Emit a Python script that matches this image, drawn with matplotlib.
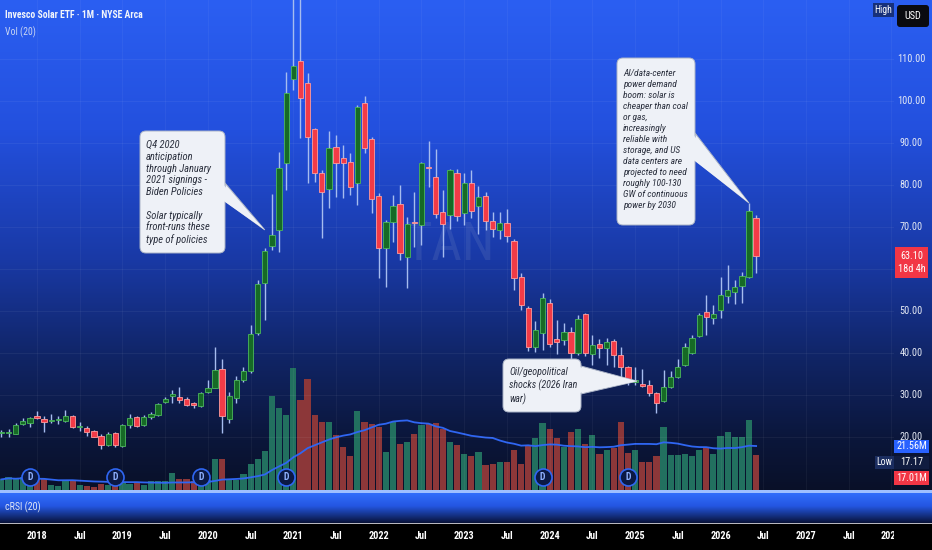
import numpy as np
import pandas as pd
import matplotlib
matplotlib.use("Agg")
import matplotlib.pyplot as plt
from matplotlib import font_manager, transforms
from matplotlib.patches import Rectangle, FancyBboxPatch, Polygon

# ---------------- data ----------------
months = pd.period_range("2017-08", "2026-06", freq="M")
opens = [20.9, 21.0, 20.7, 23.1, 23.3,
         25.0, 24.3, 23.8, 24.0, 23.8, 25.0, 22.4, 22.1, 21.4, 20.2, 18.1, 20.9,
         17.9, 22.9, 24.8, 22.9, 24.8, 25.2, 28.3, 29.8, 29.5, 29.05, 28.1, 27.4,
         30.7, 31.7, 36.2, 24.3, 29.3, 33.6, 35.7, 44.8, 56.7, 65.5, 69.3, 85.2,
         105.2, 109.5, 104.3, 93.3, 82.9, 79.1, 89.05, 86.4, 85.5, 80.5, 99.5, 91.0,
         77.4, 65.0, 71.2, 75.5, 62.9, 71.0, 70.5, 84.1, 81.9, 73.6, 72.9, 82.9,
         73.3, 80.5, 75.0, 77.4, 71.4, 69.3, 71.0, 66.7, 58.1, 50.7, 41.4, 44.8,
         51.9, 43.3, 43.1, 45.0, 40.0, 49.3, 39.8, 42.1, 41.2, 42.9, 39.5, 36.7,
         33.1, 32.6, 32.4, 30.5, 28.6, 31.9, 34.3, 37.1, 40.0, 44.05, 49.8, 48.3,
         50.2, 53.6, 54.5, 56.0, 58.1, 72.1]
highs = [21.7, 21.9, 23.3, 24.5, 24.8,
         26.2, 25.0, 25.5, 25.0, 26.4, 25.2, 23.6, 22.6, 21.7, 20.7, 21.2, 21.2,
         23.1, 25.5, 25.0, 25.2, 26.0, 28.1, 29.5, 31.2, 31.9, 29.5, 28.3, 30.7,
         33.6, 41.4, 38.6, 30.7, 34.5, 36.7, 46.7, 57.4, 65.0, 77.9, 87.9, 106.9,
         128.0, 130.0, 106.7, 93.6, 83.6, 92.9, 91.9, 89.5, 87.6, 99.05, 101.2, 91.4,
         78.1, 71.7, 77.6, 80.0, 72.4, 78.3, 85.5, 90.5, 88.6, 78.8, 83.8, 83.8,
         82.9, 83.6, 79.8, 78.3, 73.6, 73.6, 74.3, 67.1, 59.1, 51.2, 47.6, 54.3,
         52.9, 47.9, 47.1, 46.2, 49.05, 49.5, 44.3, 43.3, 43.6, 43.3, 41.4, 36.9,
         36.7, 36.2, 33.6, 30.7, 36.0, 35.7, 38.6, 42.4, 44.3, 49.5, 53.8, 51.4,
         58.1, 61.0, 57.4, 59.3, 75.7, 72.9]
lows = [20.0, 20.1, 20.6, 22.9, 22.4,
        24.4, 21.2, 23.3, 23.1, 23.6, 22.1, 21.4, 20.2, 19.9, 17.17, 17.9, 17.6,
        17.6, 22.1, 22.4, 22.6, 24.3, 25.0, 28.1, 28.1, 28.1, 27.4, 26.9, 27.1,
        30.5, 31.6, 21.0, 23.3, 28.1, 33.1, 35.2, 44.3, 47.9, 64.5, 64.0, 78.8,
        102.6, 91.2, 80.5, 80.7, 67.4, 74.5, 77.2, 76.9, 77.6, 75.2, 87.6, 73.3,
        57.9, 55.7, 66.4, 62.1, 55.5, 65.2, 65.7, 79.5, 72.1, 62.9, 69.5, 71.4,
        70.5, 72.1, 68.3, 69.3, 67.6, 67.1, 66.4, 55.0, 50.2, 40.5, 40.2, 40.7,
        41.4, 39.8, 41.9, 38.3, 39.5, 39.3, 37.1, 38.8, 37.1, 36.7, 34.3, 32.4,
        32.4, 31.9, 29.8, 25.7, 28.3, 31.7, 34.0, 36.9, 39.8, 43.8, 44.3, 46.9,
        48.3, 51.9, 51.7, 51.9, 57.9, 59.1]
closes = [21.0, 21.1, 22.9, 23.8, 24.5,
          24.5, 23.6, 24.1, 24.05, 25.0, 22.4, 22.45, 21.2, 20.0, 18.1, 20.7, 18.1,
          22.9, 24.5, 22.6, 24.8, 25.5, 27.9, 29.05, 30.2, 28.8, 27.6, 27.6, 30.5,
          31.7, 36.0, 25.0, 29.8, 33.6, 35.7, 44.5, 56.4, 64.3, 68.1, 84.0, 101.9,
          108.3, 100.7, 91.4, 82.9, 78.3, 88.8, 85.2, 85.2, 79.5, 98.6, 88.8, 76.7,
          65.0, 71.2, 75.0, 63.8, 70.7, 70.9, 85.2, 84.0, 73.1, 70.7, 83.6, 72.6,
          80.5, 73.8, 77.1, 71.4, 69.5, 71.0, 67.9, 57.9, 51.4, 41.4, 45.5, 53.1,
          42.1, 42.6, 45.0, 40.0, 48.1, 40.0, 41.9, 41.2, 42.6, 39.5, 36.7, 33.1,
          33.6, 32.1, 30.5, 28.1, 31.9, 34.3, 36.7, 41.4, 43.6, 49.05, 48.6, 49.3,
          53.8, 55.0, 55.7, 58.3, 73.8, 63.1]
volumes_m = [5.2, 6.2, 5.2, 6.4, 4.9,
             5.2, 5.2, 2.6, 2.0, 4.9, 4.9, 2.3, 2.0, 1.6, 2.9, 2.3, 2.9,
             3.3, 2.9, 4.1, 2.5, 4.6, 4.6, 4.6, 8.2, 5.4, 5.4, 4.6, 4.9,
             4.9, 15.2, 15.2, 4.9, 4.9, 7.8, 12.7, 15.2, 19.3, 46.2, 40.2, 36.8,
             59.8, 44.1, 54.4, 36.8, 33.3, 33.2, 27.0, 21.1, 16.7, 38.7, 33.2, 32.2,
             30.9, 18.5, 33.3, 22.5, 23.4, 27.3, 31.9, 32.2, 33.0, 29.9, 23.4, 22.1,
             17.5, 16.8, 18.5, 12.3, 12.6, 13.9, 13.6, 19.6, 12.6, 21.7, 25.3, 32.7,
             29.9, 25.3, 21.2, 28.3, 29.9, 22.4, 27.0, 17.5, 19.6, 20.4, 33.2, 18.3,
             19.6, 13.6, 13.6, 16.7, 31.0, 17.3, 17.4, 17.5, 16.8, 19.6, 20.4, 17.6,
             26.5, 28.6, 26.1, 26.1, 34.3, 17.01]
dividend_months = ["2017-12", "2018-12", "2019-12", "2020-12", "2023-12", "2024-12"]
price_ticks = [20, 30, 40, 50, 60, 70, 80, 90, 100, 110]
time_tick_labels = ["2018", "Jul", "2019", "Jul", "2020", "Jul", "2021", "Jul",
                    "2022", "Jul", "2023", "Jul", "2024", "Jul", "2025", "Jul",
                    "2026", "Jul", "2027", "Jul", "2028"]
countdown = "18d 4h"
title = "Invesco Solar ETF \u00b7 1M \u00b7 NYSE Arca"
note_left = ("Q4 2020\nanticipation\nthrough January\n2021 signings -\nBiden Policies\n\n"
             "Solar typically\nfront-runs these\ntype of policies")
note_ai = ("AI/data-center\npower demand\nboom: solar is\ncheaper than coal\nor gas,\n"
           "increasingly\nreliable with\nstorage, and US\ndata centers are\nprojected to need\n"
           "roughly 100-130\nGW of continuous\npower by 2030")
note_oil = "Oil/geopolitical\nshocks (2026 Iran\nwar)"

# ---------------- fonts ----------------
avail = {f.name for f in font_manager.fontManager.ttflist}
def pick(*names):
    for n in names:
        if n in avail:
            return n
    return "DejaVu Sans"
NARROW = pick("Liberation Sans Narrow", "Roboto Condensed", "Open Sans Condensed", "DejaVu Sans")
plt.rcParams["font.family"] = [NARROW, "DejaVu Sans"]

# ---------------- figure ----------------
W, H = 932, 550
fig = plt.figure(figsize=(W / 100, H / 100), dpi=100)
pxT = transforms.Affine2D().scale(1.0 / W, -1.0 / H).translate(0, 1) + fig.transFigure

# background gradient
bg = fig.add_axes([0, 0, 1, 1], zorder=-5)
bg.set_axis_off()
yy = np.arange(H) + 0.5
def grad(stops):
    ys = [s[0] for s in stops]
    cols = np.array([s[1] for s in stops], float) / 255.0
    return np.stack([np.interp(yy, ys, cols[:, k]) for k in range(3)], axis=1)
g_main = grad([(0, (43, 95, 242)), (130, (35, 80, 222)), (260, (25, 57, 165)),
               (360, (16, 36, 100)), (440, (11, 22, 58)), (490, (9, 16, 40))])
g_crsi = grad([(490, (160, 192, 255)), (492.5, (160, 192, 255)), (493, (50, 110, 252)),
               (506, (36, 86, 225)), (523, (8, 18, 55))])
img = np.where((yy < 490)[:, None], g_main, np.where((yy < 523)[:, None], g_crsi, 0.0))
img[523] = (0.72, 0.72, 0.75)
bg.imshow(img[:, None, :], aspect="auto", extent=[0, 1, 0, 1], interpolation="nearest")
bg.set_xlim(0, 1); bg.set_ylim(0, 1)

PX_PER_MONTH = 7.12
X0 = -37 / PX_PER_MONTH
X1 = (894 - 37) / PX_PER_MONTH
axv = fig.add_axes([0, 60 / H, 894 / W, 490 / H], zorder=1)
ax = fig.add_axes([0, 60 / H, 894 / W, 490 / H], zorder=2)
for a in (axv, ax):
    a.set_xlim(X0, X1)
    a.patch.set_alpha(0)
    a.set_axis_off()
ax.set_ylim(7.38, 124.05)
axv.set_ylim(0, 490 / 2.04)

xi = np.array([(p.year - 2018) * 12 + p.month - 1 for p in months], float)
o = np.array(opens); h = np.array(highs); l = np.array(lows); c = np.array(closes)
v = np.array(volumes_m)
up = c >= o

# grid
tick_pos = np.arange(0, 121, 6)
for p in price_ticks:
    ax.axhline(p, color="white", alpha=0.05, lw=0.8, zorder=0)
for t in tick_pos:
    ax.axvline(t, color="white", alpha=0.045, lw=0.8, zorder=0)

# watermark
ax.text(58, 65.7, "TAN", fontsize=38, color=(0.6, 0.66, 0.8), alpha=0.15,
        ha="center", va="center", zorder=0)

# volume
vcol = np.where(up, "#22705f", "#8c3739")
axv.bar(xi, v, width=0.86, color=vcol, zorder=2, linewidth=0)
ma = pd.Series(v).rolling(20, min_periods=1).mean().values
axv.plot(xi, ma, color="#2f66f2", lw=1.3, zorder=3)

# candles
wick = "#a6bcef"
ax.vlines(xi, l, h, color=wick, lw=1.0, zorder=3)
body_lo = np.minimum(o, c)
body_h = np.maximum(np.abs(c - o), 0.22)
ax.bar(xi, body_h, bottom=body_lo, width=0.74,
       color=np.where(up, "#166a26", "#f23b47"),
       edgecolor=np.where(up, "#4cb85c", "#ff9c9c"), linewidth=0.6, zorder=4)

# dividend markers
div_x = [(pd.Period(m).year - 2018) * 12 + pd.Period(m).month - 1 for m in dividend_months]
div_y = 10.48
ax.scatter(div_x, [div_y] * len(div_x), s=150, facecolor="#0b1944",
           edgecolor="#2f66f2", linewidth=1.2, zorder=6)
for dx in div_x:
    ax.text(dx, div_y, "D", color="#8fb1ff", fontsize=7, ha="center", va="center",
            zorder=7, fontweight="bold")

def d2p(x, y, a=ax):
    X, Y = a.transData.transform((x, y))
    return X, H - Y

def rect(x0, y0, x1, y1, color, z=30, rounded=0):
    if rounded:
        p = FancyBboxPatch((x0, y0), x1 - x0, y1 - y0,
                           boxstyle="round,pad=0,rounding_size=%g" % rounded,
                           transform=pxT, fc=color, ec="none", zorder=z)
    else:
        p = Rectangle((x0, y0), x1 - x0, y1 - y0, transform=pxT, fc=color, ec="none", zorder=z)
    fig.add_artist(p)

def ftext(x, y, s, **kw):
    kw.setdefault("zorder", 40)
    fig.text(x, y, s, transform=pxT, **kw)

# titles
ftext(5, 15, title, color="#f2f5fb", fontsize=7.0, va="center", fontweight="bold")
ftext(5, 32, "Vol (20)", color="#c9d5f2", fontsize=7.0, va="center")
ftext(5, 507, "cRSI (20)", color="#e0e7f7", fontsize=7.2, va="center")

# current price box position
_, yc = d2p(0, c[-1])
box_top, box_bot = yc - 9, yc + 22

# price scale labels (the one hidden by the live price box is not drawn)
for p in price_ticks:
    _, yp = d2p(0, p)
    if box_top - 4 < yp < box_bot + 4:
        continue
    ftext(911, yp, "%.2f" % p, color="#e4e9f4", fontsize=7.4, ha="center", va="center",
          zorder=25)

# top-right boxes
rect(873, 3, 894, 17, "#17307a")
ftext(883.5, 10, "High", color="white", fontsize=7, ha="center", va="center")
rect(897, 5, 929, 27, "#0a0b10", rounded=3)
ftext(913, 16, "USD", color="white", fontsize=7.4, ha="center", va="center")

# current price label
rect(895, box_top, 928, box_bot, "#f23645")
ftext(911.5, yc, "%.2f" % c[-1], color="white", fontsize=7.4, ha="center", va="center")
ftext(911.5, yc + 13, countdown, color="white", fontsize=7.4, ha="center", va="center")

# volume / low labels (stacked)
_, ym = d2p(0, ma[-1], axv)
rect(894, ym - 6.5, 929, ym + 6.5, "#2962ff")
ftext(911.5, ym, "%.2fM" % ma[-1], color="white", fontsize=7.4, ha="center", va="center")
_, ylow = d2p(0, l.min())
ylow = max(ylow, ym + 16)
rect(875, ylow - 6.5, 894, ylow + 6.5, "#1b2d60")
rect(894, ylow - 6.5, 929, ylow + 6.5, "#101c40")
ftext(884.5, ylow, "Low", color="white", fontsize=7, ha="center", va="center")
ftext(911.5, ylow, "%.2f" % l.min(), color="white", fontsize=7.4, ha="center", va="center")
_, yv = d2p(0, v[-1], axv)
yv = max(yv, ylow + 16)
rect(894, yv - 7, 929, yv + 7, "#f23645")
ftext(911.5, yv, "%.2fM" % v[-1], color="white", fontsize=7.4, ha="center", va="center")

# time axis
axt = fig.add_axes([0, 0, 894 / W, 26 / H], zorder=3)
axt.set_axis_off(); axt.patch.set_alpha(0)
axt.set_xlim(X0, X1); axt.set_ylim(0, 1)
for t, lab in zip(tick_pos, time_tick_labels):
    axt.text(t, 0.54, lab, color="white", fontsize=7.4, fontweight="bold",
             ha="center", va="center", clip_on=True)

# callouts
FILL = "#eef1f7"
EDGE = "#aab3c6"
def callout(box, base, tip, text, txy, fs, ls):
    x0, y0, x1, y1 = box
    tri = Polygon([base[0], tip, base[1]], closed=True, transform=pxT,
                  fc=FILL, ec=EDGE, lw=0.7, zorder=20)
    fig.add_artist(tri)
    bx = FancyBboxPatch((x0, y0), x1 - x0, y1 - y0, boxstyle="round,pad=0,rounding_size=6",
                        transform=pxT, fc=FILL, ec=EDGE, lw=0.7, zorder=21)
    fig.add_artist(bx)
    (bxa, bya), (bxb, byb) = base
    inset = -2.5 if bxa > (x0 + x1) / 2 else 2.5
    tri2 = Polygon([(bxa + inset, bya + 0.8), tip, (bxb + inset, byb - 0.8)], closed=True,
                   transform=pxT, fc=FILL, ec="none", zorder=22)
    fig.add_artist(tri2)
    ftext(txy[0], txy[1], text, color="#2a2f3d", fontsize=fs, style="italic",
          ha="left", va="top", linespacing=ls, zorder=23)

callout((140, 131, 225, 253), ((225, 183), (225, 201)), d2p(32, 69.3),
        note_left, (146, 140), 7.6, 1.22)
callout((617, 58, 695, 225), ((695, 133), (695, 160)), d2p(100, 75.7),
        note_ai, (623, 68.5), 6.8, 1.29)
callout((503, 359, 581, 412), ((581, 366), (581, 394)), d2p(84.3, 33.3),
        note_oil, (509, 367), 7.2, 1.28)

fig.savefig("out.png", dpi=100)
